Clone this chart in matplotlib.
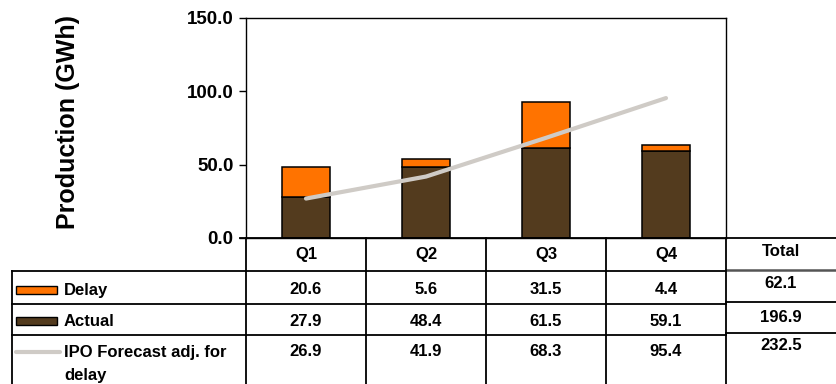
import matplotlib
matplotlib.use("Agg")
import matplotlib.pyplot as plt
from matplotlib.patches import Rectangle

plt.rcParams['font.family'] = ['Liberation Sans', 'DejaVu Sans']
plt.rcParams['font.weight'] = 'bold'

# Data
quarters = ['Q1', 'Q2', 'Q3', 'Q4']
delay = [20.6, 5.6, 31.5, 4.4]
actual = [27.9, 48.4, 61.5, 59.1]
ipo_forecast = [26.9, 41.9, 68.3, 95.4]
totals = ['62.1', '196.9', '232.5']
row_names = ['Delay', 'Actual', 'IPO Forecast adj. for\ndelay']

orange = '#FF7300'
brown = '#533B1E'
gray = '#CFCBC6'

W, H = 837, 384
fig = plt.figure(figsize=(W / 100, H / 100), dpi=100)

# Chart area
ax = fig.add_axes([246 / W, 1 - 238 / H, 480 / W, 220 / H])
x = list(range(len(quarters)))
ax.bar(x, actual, width=0.4, color=brown, edgecolor='black', linewidth=1.1, zorder=2)
ax.bar(x, delay, width=0.4, bottom=actual, color=orange, edgecolor='black', linewidth=1.1, zorder=2)
ax.plot(x, ipo_forecast, color=gray, linewidth=3, solid_capstyle='round', zorder=3)
ax.set_xlim(-0.5, 3.5)
ax.set_ylim(0, 150)
ax.set_yticks([0, 50, 100, 150])
ax.set_yticklabels(['%.1f' % v for v in [0, 50, 100, 150]], fontsize=13.5, fontweight='bold')
ax.set_xticks([])
ax.tick_params(axis='y', direction='out', length=5, width=1, pad=4)
for s in ax.spines.values():
    s.set_linewidth(1)
ax.set_ylabel('Production (GWh)', fontsize=18, fontweight='bold')
ax.yaxis.set_label_coords(-0.346, 0.527)

# Table underneath
tb = fig.add_axes([0, 0, 1, 1], zorder=5)
tb.set_xlim(0, W)
tb.set_ylim(H, 0)
tb.axis('off')
tb.patch.set_alpha(0)

lw = 1.3
fs = 12
col_edges = [246, 366, 486, 606, 726]
# horizontal lines
tb.plot([240, 837], [238, 238], color='black', lw=lw)
tb.plot([12, 726], [271, 271], color='black', lw=lw)
tb.plot([12, 726], [304, 304], color='black', lw=lw)
tb.plot([12, 726], [335, 335], color='black', lw=lw)
tb.plot([726, 837], [270, 270], color='#555555', lw=1.8)
tb.plot([726, 837], [302, 302], color='black', lw=lw)
tb.plot([726, 837], [333, 333], color='black', lw=lw)
# vertical lines
tb.plot([12, 12], [271, H], color='black', lw=lw)
for cx in col_edges:
    tb.plot([cx, cx], [238, H], color='black', lw=lw)

# header and values
for i, q in enumerate(quarters):
    cx = (col_edges[i] + col_edges[i + 1]) / 2
    tb.text(cx, 254, q, ha='center', va='center', fontsize=fs, fontweight='bold')
    tb.text(cx, 289.5, '%.1f' % delay[i], ha='center', va='center', fontsize=fs, fontweight='bold')
    tb.text(cx, 321, '%.1f' % actual[i], ha='center', va='center', fontsize=fs, fontweight='bold')
    tb.text(cx, 352, '%.1f' % ipo_forecast[i], ha='center', va='center', fontsize=fs, fontweight='bold')

tb.text(781, 251, 'Total', ha='center', va='center', fontsize=fs, fontweight='bold')
for t, yy in zip(totals, [283, 317, 345]):
    tb.text(781, yy, t, ha='center', va='center', fontsize=fs, fontweight='bold')

# legend keys
tb.add_patch(Rectangle((16, 286), 41, 8, facecolor=orange, edgecolor='black', lw=1))
tb.add_patch(Rectangle((16, 317), 41, 8, facecolor=brown, edgecolor='black', lw=1))
tb.plot([16, 60], [352, 352], color=gray, lw=3, solid_capstyle='round')
tb.text(64, 290, row_names[0], ha='left', va='center', fontsize=fs, fontweight='bold')
tb.text(64, 321, row_names[1], ha='left', va='center', fontsize=fs, fontweight='bold')
tb.text(64, 364, row_names[2], ha='left', va='center', fontsize=fs, fontweight='bold',
        linespacing=1.7)

fig.savefig('out.png', dpi=100)
